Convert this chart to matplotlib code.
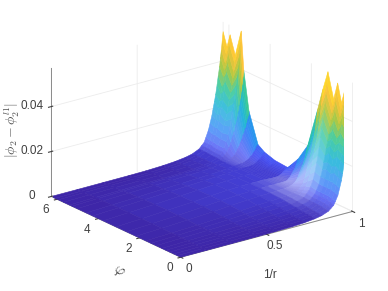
import numpy as np
import matplotlib
matplotlib.use("Agg")
import matplotlib.pyplot as plt
from matplotlib.colors import LinearSegmentedColormap

plt.rcParams['font.family'] = ['Liberation Sans', 'DejaVu Sans']
plt.rcParams['mathtext.fontset'] = 'cm'

x_ticks = [0, 0.5, 1]
y_ticks = [0, 2, 4, 6]
z_ticks = [0, 0.02, 0.04]
x_tick_labels = ['0', '0.5', '1']
y_tick_labels = ['0', '2', '4', '6']
z_tick_labels = ['0', '0.02', '0.04']

phi_frac = [0, .027, .054, .085, .115, .146, .19, .23, .27, .346, .42, .5, .6, .68, .73, .8, .84, .86, .906, .946, .97, 1]
inv_r = [0, .15, .3, .45, .55, .65, .72, .78, .82, .86, .875, .89, .9, .915, .925, .935, .942, .95, .957, .965, .972, .98, .985, .99, .995, 1]
# values in units of 1e-3; one row per inv_r node
z_rows = [
 [0]*22,
 [0,.1,.15,.2,.25,.3,.35,.4,.45,.5,.55,.6,.6,.55,.5,.4,.35,.3,.2,.15,.1,0],
 [.05,.15,.25,.35,.45,.55,.7,.8,.9,1.1,1.2,1.3,1.2,1.1,1,.8,.7,.5,.4,.25,.15,.05],
 [.1,.25,.4,.55,.7,.85,1.1,1.3,1.5,1.8,2,2,1.9,1.7,1.5,1.2,.9,.7,.5,.3,.2,.1],
 [.2,.35,.55,.75,.95,1.2,1.5,1.8,2.1,2.4,2.6,2.6,2.4,2.1,1.8,1.4,1.1,.8,.6,.4,.3,.2],
 [.4,.6,.8,1,1.3,1.6,2,2.3,2.6,2.9,3.1,3.1,2.9,2.5,2.2,1.7,1.3,1,.9,.7,.6,.5],
 [.7,.9,1.1,1.3,1.6,1.9,2.3,2.6,2.9,3.2,3.3,3.3,3.1,2.8,2.4,1.9,1.5,1.3,1.2,1.1,1,.9],
 [1.2,1.4,1.6,1.8,2,2.3,2.6,2.9,3.1,3.3,3.4,3.4,3.3,3,2.7,2.2,1.9,1.8,1.7,1.6,1.6,1.5],
 [1.8,2,2.2,2.4,2.6,2.8,3,3.2,3.3,3.4,3.5,3.4,3.4,3.2,3,2.6,2.4,2.3,2.3,2.3,2.3,2.2],
 [3,3.2,3.5,3.6,3.7,3.8,3.9,3.8,3.7,3.6,3.5,3.4,3.4,3.3,3.2,3,3.1,3.4,3.4,3.6,3.6,3.6],
 [4,4.3,4.7,4.8,4.8,4.9,5.2,4.6,4.1,3.7,3.5,3.3,3.3,3.3,3.3,3.3,3.8,4.4,4.4,4.8,4.8,4.8],
 [5,5.5,6,6,6,6,6.5,5.5,4.6,3.8,3.5,3.3,3.3,3.4,3.4,3.6,4.5,5.5,5.5,6,6,6],
 [6.5,7,7.5,7.5,7.5,7.5,8,7,5.5,4.1,3.5,3.2,3.3,3.4,3.5,4.2,5.7,7,7,7.5,7.5,8],
 [9,9.5,10,10,10,10,11,9,7,4.6,3.5,3.2,3.3,3.4,3.6,5,7.5,9.5,9.5,10,10,11],
 [12,12.5,13,13,13,13,14,12,9,5.2,3.6,3.2,3.3,3.5,3.9,6,9.5,12.5,12,13,13,14],
 [15,16,17,16,17,16,18,15,12,6,3.8,3.2,3.3,3.6,4.2,7.5,12,16,15,16,16,17],
 [18,19,20,19,20,19,21,18,14,7,4.2,3.3,3.4,3.9,4.6,8.5,14,19,17,19,18,20],
 [22,23,24,22,24,22,25,21,16,8.5,4.8,3.5,3.5,4.2,5,10,17,23,20,22,21,23],
 [25,26,27,25,27,25,29,24,18,9.5,5.5,3.8,3.7,4.6,5.5,11,19,26,23,25,24,26],
 [28,29,30,28,30,28,33,27,21,11,6.5,4.2,3.9,5,6,13,22,30,26,29,27,30],
 [31,32,34,31,34,31,37,30,24,12,7.3,4.6,4.2,5.5,6.8,14,25,34,29,33,30,34],
 [34,36,38,34,38,34,41,34,27,14,8.2,5,4.6,6,7.5,16,28,38,32,37,34,38],
 [37,39,42,37,42,37,44,37,29,15,9,5.3,5,6.5,8,18,31,42,35,41,37,42],
 [40,43,46,40,46,40,48,41,32,17,10,5.6,5.5,7,9,20,34,47,38,45,40,45],
 [44,46,50,43,50,43,52,44,35,18,11,5.8,6,7.5,9.5,21,37,52,42,49,44,49],
 [47,50,54,46,54,46,57,48,38,20,12,6,6.5,8,10,23,40,57,45,53,47,53],
]

parula = LinearSegmentedColormap.from_list('parula', [
    (0.00, (0.2422, 0.1504, 0.6603)), (0.10, (0.2810, 0.3228, 0.9579)),
    (0.22, (0.1786, 0.5289, 0.9682)), (0.38, (0.0689, 0.6948, 0.8394)),
    (0.52, (0.2161, 0.7843, 0.5923)), (0.66, (0.6720, 0.7793, 0.2227)),
    (0.80, (0.9970, 0.7659, 0.2199)), (1.00, (0.9769, 0.9839, 0.0805))])

X, Y = np.meshgrid(inv_r, np.array(phi_frac) * 2 * np.pi, indexing='ij')
Z = np.array(z_rows, dtype=float) * 1e-3

fig = plt.figure(figsize=(3.88, 2.91), dpi=100)
ax = fig.add_axes([4 / 388, 2 / 291, 1, 1], projection='3d', proj_type='ortho')
ax.view_init(elev=20.7, azim=-127)
ax.set_box_aspect((1, 1, 0.64), zoom=1.114)
ax.patch.set_alpha(0)
fig.patch.set_facecolor('white')

zm = 0.25 * (Z[:-1, :-1] + Z[1:, :-1] + Z[:-1, 1:] + Z[1:, 1:])
cols = parula(np.clip(zm / 0.058, 0, 1))
# the dense mesh thins out on the walls of the spikes and lets white through
pm = 0.5 * (Y[:-1, :-1] + Y[:-1, 1:]) / (2 * np.pi)
um = 0.5 * (X[:-1, :-1] + X[1:, :-1])
near = np.clip((um - 0.74) / 0.18, 0, 1) * np.clip((0.995 - um) / 0.06, 0, 1)
near_wall = near * np.clip((0.55 - pm) / 0.2, 0, 1) * (0.2 + 0.35 * np.clip((pm - 0.12) / 0.08, 0, 1))
far = np.clip((um - 0.84) / 0.06, 0, 1) * np.clip((0.995 - um) / 0.05, 0, 1)
far_wall = 0.22 * far * np.clip((pm - 0.66) / 0.1, 0, 1)
whiten = near_wall + far_wall
cols[..., :3] = cols[..., :3] * (1 - whiten[..., None]) + whiten[..., None]
surf = ax.plot_surface(X, Y, Z, facecolors=cols, shade=False, rstride=1, cstride=1,
                       linewidth=0, antialiased=True)
surf.set_edgecolor(cols.reshape(-1, 4))
surf.set_linewidth(0.4)

ax.set_xlim(0, 1)
ax.set_ylim(0, 2 * np.pi)
ax.set_zlim(0, 0.0573)
ax.set_xticks(x_ticks, x_tick_labels)
ax.set_yticks(y_ticks, y_tick_labels)
ax.set_zticks(z_ticks, z_tick_labels)
ax.tick_params(labelsize=8.5, colors='#404040', pad=-1)
for axis_, va in ((ax.xaxis, 'center'), (ax.yaxis, 'center'), (ax.zaxis, 'center')):
    for t in axis_.get_major_ticks():
        t.label1.set_va(va)
for a in (ax.xaxis, ax.yaxis, ax.zaxis):
    a.set_pane_color((1, 1, 1, 0))
    a.pane.set_edgecolor((1, 1, 1, 0))
    a._axinfo['grid'].update(color='#ececec', linewidth=0.6)
    a.line.set_color('#8a8a8a')
    a.line.set_linewidth(0.7)

W, H = 388, 291
fig.text(270 / W, 1 - 275 / H, '1/r', fontsize=8.5, color='#404040', ha='center', va='center')
fig.text(118 / W, 1 - 272 / H, r'$\varphi$', fontsize=11, color='#404040', ha='center', va='center', rotation=-30)
fig.text(12 / W, 1 - 130 / H, r'$|\phi_2-\phi_2^{l1}|$', fontsize=10, color='#505050', ha='center', va='center', rotation=90)

fig.savefig('out.png', dpi=100)
